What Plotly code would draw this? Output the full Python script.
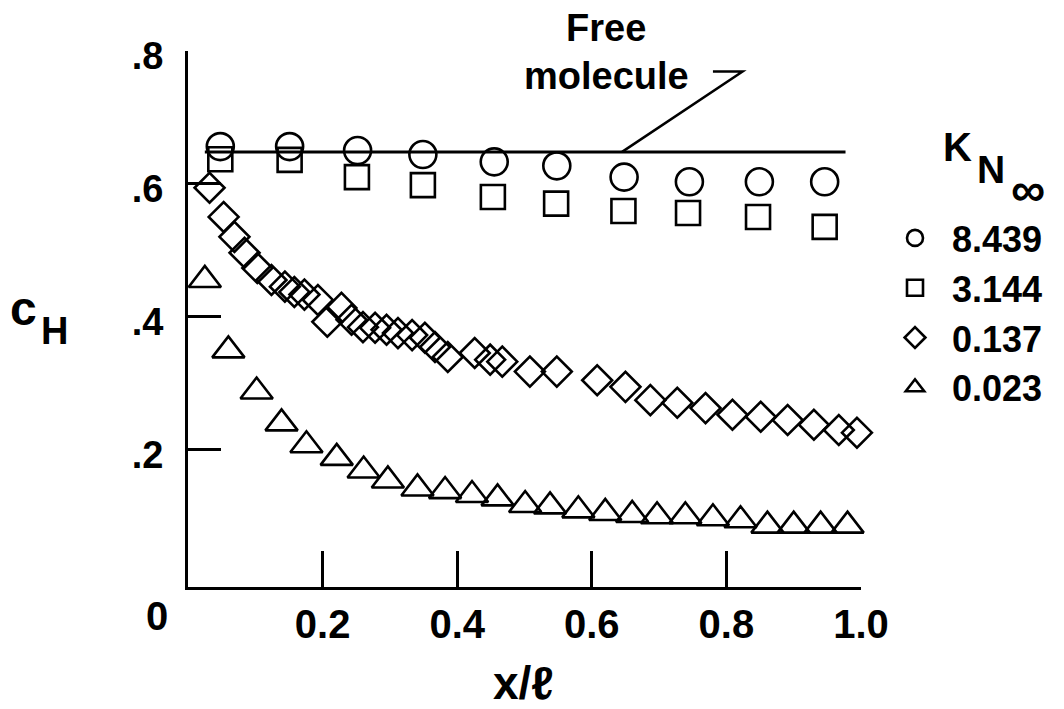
import plotly.graph_objects as go

# ---- data ----
kn_labels = ["8.439", "3.144", "0.137", "0.023"]

x_circle = [0.048, 0.151, 0.252, 0.349, 0.455, 0.548, 0.648, 0.745, 0.849, 0.946]
y_circle = [0.656, 0.656, 0.650, 0.644, 0.633, 0.627, 0.610, 0.603, 0.603, 0.603]

x_square = [0.048, 0.151, 0.251, 0.349, 0.453, 0.547, 0.647, 0.743, 0.847, 0.946]
y_square = [0.637, 0.636, 0.610, 0.598, 0.580, 0.570, 0.559, 0.556, 0.550, 0.535]

x_diamond = [0.032, 0.053, 0.069, 0.084, 0.103, 0.124, 0.144, 0.158, 0.173, 0.193,
             0.207, 0.228, 0.243, 0.260, 0.278, 0.295, 0.312, 0.333, 0.352, 0.367,
             0.386, 0.426, 0.449, 0.467, 0.508, 0.548, 0.608, 0.650, 0.687, 0.727,
             0.769, 0.809, 0.851, 0.891, 0.930, 0.967, 0.994]
y_diamond = [0.594, 0.550, 0.520, 0.496, 0.473, 0.455, 0.445, 0.437, 0.433, 0.425,
             0.392, 0.413, 0.395, 0.384, 0.383, 0.380, 0.375, 0.372, 0.368, 0.354,
             0.339, 0.345, 0.335, 0.332, 0.317, 0.317, 0.304, 0.294, 0.274, 0.270,
             0.262, 0.252, 0.249, 0.244, 0.237, 0.229, 0.225]

x_triangle = [0.025, 0.060, 0.102, 0.139, 0.176, 0.221, 0.261, 0.297, 0.341, 0.382,
              0.422, 0.460, 0.501, 0.538, 0.580, 0.620, 0.660, 0.697, 0.739, 0.780,
              0.821, 0.861, 0.900, 0.940, 0.980]
y_triangle = [0.455, 0.349, 0.287, 0.239, 0.206, 0.187, 0.168, 0.153, 0.141, 0.137,
              0.131, 0.126, 0.116, 0.114, 0.108, 0.104, 0.101, 0.099, 0.099, 0.096,
              0.093, 0.085, 0.085, 0.085, 0.085]

free_x = [0.025, 0.977]
free_y = [0.648, 0.648]

x_tickvals = [0.2, 0.4, 0.6, 0.8, 1.0]
x_ticktext = ["0.2", "0.4", "0.6", "0.8", "1.0"]
y_tickvals = [0.2, 0.4, 0.6, 0.8]
y_ticktext = [".2", ".4", ".6", ".8"]

# ---- layout geometry (page has an 8px body margin) ----
OFF = 8
W, H = 1064 - OFF, 709 - OFF
ML, MR, MT, MB = 188 - OFF, 203, 51 - OFF, 122
PW, PH = W - ML - MR, H - MT - MB
FONT = "Liberation Sans"


def px(xp):
    return (xp - OFF - ML) / PW


def py(yp):
    return (H - MB - (yp - OFF)) / PH


fig = go.Figure()

fig.add_trace(go.Scatter(x=free_x, y=free_y, mode="lines",
                         line=dict(color="black", width=3),
                         showlegend=False, hoverinfo="skip"))

series = [
    (x_circle, y_circle, "circle-open", 27),
    (x_square, y_square, "square-open", 24),
    (x_diamond, y_diamond, "diamond-open", 23),
    (x_triangle, y_triangle, "triangle-up-open", 28),
]
for (xs, ys, sym, sz), lab in zip(series, kn_labels):
    fig.add_trace(go.Scatter(
        x=xs, y=ys, mode="markers", name=lab, cliponaxis=False,
        marker=dict(symbol=sym, size=sz, color="black",
                    line=dict(color="black", width=2.6)),
    ))

bold = dict(family=FONT, color="black", weight="bold")

fig.update_layout(
    width=W, height=H,
    margin=dict(l=ML, r=MR, t=MT, b=MB, pad=0),
    paper_bgcolor="white", plot_bgcolor="white",
    showlegend=True,
    legend=dict(x=px(878), y=py(208), xanchor="left", yanchor="top",
                font=dict(size=36, **bold), bgcolor="rgba(0,0,0,0)",
                borderwidth=0, tracegroupgap=0, itemwidth=64),
    xaxis=dict(range=[0, 1], showgrid=False, zeroline=False,
               showline=True, linecolor="black", linewidth=3,
               ticks="inside", ticklen=36, tickwidth=3, tickcolor="black",
               tickvals=x_tickvals, ticktext=x_ticktext,
               tickfont=dict(size=40, **bold)),
    yaxis=dict(range=[-0.0075, 0.8], showgrid=False, zeroline=False,
               showline=True, linecolor="black", linewidth=3,
               ticks="inside", ticklen=33, tickwidth=3, tickcolor="black",
               tickvals=y_tickvals, ticktext=y_ticktext,
               ticklabelstandoff=14, ticklabelshift=5,
               tickfont=dict(size=38, **bold)),
)

# leader line from the label to the free-molecule line
fig.add_shape(type="path", xref="x", yref="y",
              path="M 0.780,0.769 L 0.824,0.769 L 0.645,0.648",
              line=dict(color="black", width=2.5))

ann = [
    dict(text="Free", x=px(606), y=py(28), size=38),
    dict(text="molecule", x=px(606), y=py(76), size=38),
    dict(text="0", x=px(157), y=py(616), size=40),
    dict(text="x/ℓ", x=px(523), y=py(683), size=46),
    dict(text="c", x=px(23), y=py(308), size=48),
    dict(text="H", x=px(54), y=py(331), size=38),
    dict(text="K", x=px(957), y=py(147), size=40),
    dict(text="N", x=px(991), y=py(169), size=39),
    dict(text="∞", x=px(1028), y=py(189), size=48),
]
for a in ann:
    fig.add_annotation(text=a["text"], x=a["x"], y=a["y"], xref="paper", yref="paper",
                       xanchor="center", yanchor="middle", showarrow=False,
                       font=dict(size=a["size"], **bold))

fig.write_html("out.html")
